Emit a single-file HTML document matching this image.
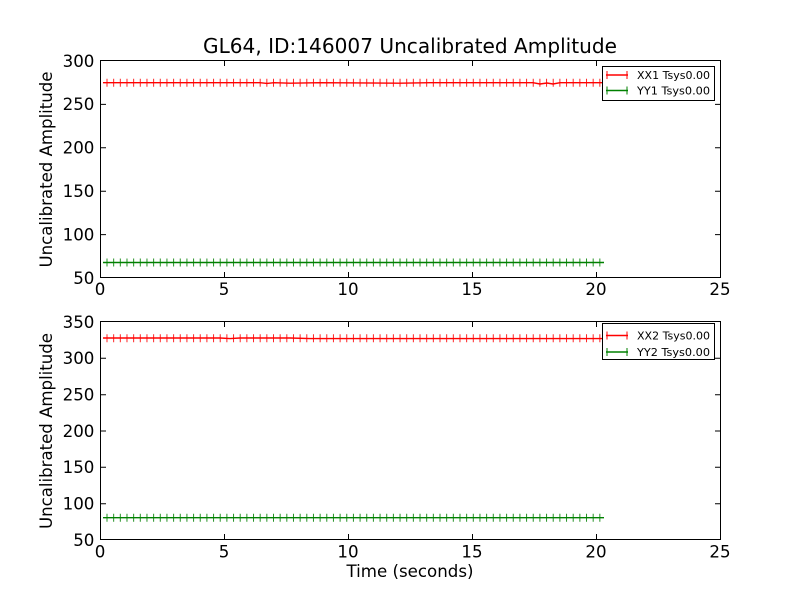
<!DOCTYPE html>
<html>
<head>
<meta charset="utf-8">
<style>
html,body{margin:0;padding:0;background:#fff;}
svg{display:block;}
text{font-family:"DejaVu Sans","Liberation Sans",sans-serif;fill:#000;}
</style>
</head>
<body>
<svg width="800" height="600" viewBox="0 0 800 600" xmlns="http://www.w3.org/2000/svg">
<rect x="0" y="0" width="800" height="600" fill="#fff"/>

<!-- Title -->
<text x="410" y="53" font-size="20" text-anchor="middle" textLength="414" lengthAdjust="spacingAndGlyphs">GL64, ID:146007 Uncalibrated Amplitude</text>

<!-- ============ TOP AXES ============ -->
<rect x="100.5" y="60.5" width="620" height="217" fill="#fff" stroke="none"/>

<!-- data: XX1 red -->
<polyline fill="none" stroke="#ff0000" stroke-width="1.4" points="103,82.7 260,82.7 267,83.4 274,82.7 290,83.2 320,82.7 400,83.2 430,82.7 520,82.7 533,82.7 540,84 547,83 553,84 560,82.7 604,82.7"/>
<path d="M106.5 82.7 H601" stroke="#ff0000" stroke-width="8" stroke-dasharray="1 5.66" fill="none" opacity="0.85"/>
<!-- data: YY1 green -->
<line x1="103" y1="262.5" x2="604" y2="262.5" stroke="#008000" stroke-width="1.4"/>
<path d="M106.5 262.5 H601" stroke="#008000" stroke-width="8" stroke-dasharray="1 5.66" fill="none" opacity="0.85"/>

<!-- spines -->
<rect x="100.5" y="60.5" width="620" height="217" fill="none" stroke="#000" stroke-width="1"/>

<!-- x ticks top axes -->
<g stroke="#000" stroke-width="1">
<path d="M224.5 277.5 v-5.5 M348.5 277.5 v-5.5 M472.5 277.5 v-5.5 M596.5 277.5 v-5.5"/>
<path d="M224.5 60.5 v5.5 M348.5 60.5 v5.5 M472.5 60.5 v5.5 M596.5 60.5 v5.5"/>
<!-- y ticks -->
<path d="M100.5 104.4 h5.5 M100.5 147.8 h5.5 M100.5 191.2 h5.5 M100.5 234.6 h5.5"/>
<path d="M720.5 104.4 h-5.5 M720.5 147.8 h-5.5 M720.5 191.2 h-5.5 M720.5 234.6 h-5.5"/>
</g>

<g font-size="16.67" text-anchor="end">
<text x="94.4" y="66.8">300</text>
<text x="94.4" y="110.2">250</text>
<text x="94.4" y="153.6">200</text>
<text x="94.4" y="197">150</text>
<text x="94.4" y="240.4">100</text>
<text x="94.4" y="283.8">50</text>
</g>
<g font-size="16.67" text-anchor="middle">
<text x="100" y="295">0</text>
<text x="224" y="295">5</text>
<text x="348" y="295">10</text>
<text x="472" y="295">15</text>
<text x="596" y="295">20</text>
<text x="720" y="295">25</text>
</g>

<text transform="translate(52,169.5) rotate(-90)" font-size="16.67" text-anchor="middle" textLength="196" lengthAdjust="spacingAndGlyphs">Uncalibrated Amplitude</text>

<!-- legend top -->
<rect x="602.5" y="66.5" width="112" height="34" fill="#fff" stroke="#000" stroke-width="1"/>
<line x1="606" y1="75" x2="628" y2="75" stroke="#ff0000" stroke-width="1.4"/>
<path d="M607 71 v8 M627 71 v8" stroke="#ff0000" stroke-width="1"/>
<text x="637" y="79" font-size="11" textLength="73" lengthAdjust="spacingAndGlyphs">XX1 Tsys0.00</text>
<line x1="606" y1="90.5" x2="628" y2="90.5" stroke="#008000" stroke-width="1.4"/>
<path d="M607 86.5 v8 M627 86.5 v8" stroke="#008000" stroke-width="1"/>
<text x="637" y="94.5" font-size="11" textLength="73" lengthAdjust="spacingAndGlyphs">YY1 Tsys0.00</text>

<!-- ============ BOTTOM AXES ============ -->
<!-- data: XX2 red -->
<polyline fill="none" stroke="#ff0000" stroke-width="1.4" points="103,338 220,338 230,338.6 240,338 290,338 310,338.6 600,338.6 604,338.6"/>
<path d="M106.5 338.3 H601" stroke="#ff0000" stroke-width="8" stroke-dasharray="1 5.66" fill="none" opacity="0.85"/>
<!-- data: YY2 green -->
<line x1="103" y1="517.7" x2="604" y2="517.7" stroke="#008000" stroke-width="1.4"/>
<path d="M106.5 517.7 H601" stroke="#008000" stroke-width="8" stroke-dasharray="1 5.66" fill="none" opacity="0.85"/>

<rect x="100.5" y="321.5" width="620" height="218" fill="none" stroke="#000" stroke-width="1"/>

<g stroke="#000" stroke-width="1">
<path d="M224.5 539.5 v-5.5 M348.5 539.5 v-5.5 M472.5 539.5 v-5.5 M596.5 539.5 v-5.5"/>
<path d="M224.5 321.5 v5.5 M348.5 321.5 v5.5 M472.5 321.5 v5.5 M596.5 321.5 v5.5"/>
<path d="M100.5 358.3 h5.5 M100.5 394.7 h5.5 M100.5 431 h5.5 M100.5 467.3 h5.5 M100.5 503.7 h5.5"/>
<path d="M720.5 358.3 h-5.5 M720.5 394.7 h-5.5 M720.5 431 h-5.5 M720.5 467.3 h-5.5 M720.5 503.7 h-5.5"/>
</g>

<g font-size="16.67" text-anchor="end">
<text x="94.4" y="327.8">350</text>
<text x="94.4" y="364.1">300</text>
<text x="94.4" y="400.5">250</text>
<text x="94.4" y="436.8">200</text>
<text x="94.4" y="473.1">150</text>
<text x="94.4" y="509.5">100</text>
<text x="94.4" y="545.8">50</text>
</g>
<g font-size="16.67" text-anchor="middle">
<text x="100" y="557.3">0</text>
<text x="224" y="557.3">5</text>
<text x="348" y="557.3">10</text>
<text x="472" y="557.3">15</text>
<text x="596" y="557.3">20</text>
<text x="720" y="557.3">25</text>
</g>

<text transform="translate(52,431) rotate(-90)" font-size="16.67" text-anchor="middle" textLength="196" lengthAdjust="spacingAndGlyphs">Uncalibrated Amplitude</text>

<text x="410" y="577" font-size="16.67" text-anchor="middle" textLength="127" lengthAdjust="spacingAndGlyphs">Time (seconds)</text>

<!-- legend bottom -->
<rect x="602.5" y="323.5" width="112" height="36" fill="#fff" stroke="#000" stroke-width="1"/>
<line x1="606" y1="335.5" x2="628" y2="335.5" stroke="#ff0000" stroke-width="1.4"/>
<path d="M607 331.5 v8 M627 331.5 v8" stroke="#ff0000" stroke-width="1"/>
<text x="637" y="339.5" font-size="11" textLength="73" lengthAdjust="spacingAndGlyphs">XX2 Tsys0.00</text>
<line x1="606" y1="352" x2="628" y2="352" stroke="#008000" stroke-width="1.4"/>
<path d="M607 348 v8 M627 348 v8" stroke="#008000" stroke-width="1"/>
<text x="637" y="356" font-size="11" textLength="73" lengthAdjust="spacingAndGlyphs">YY2 Tsys0.00</text>
</svg>
</body>
</html>
